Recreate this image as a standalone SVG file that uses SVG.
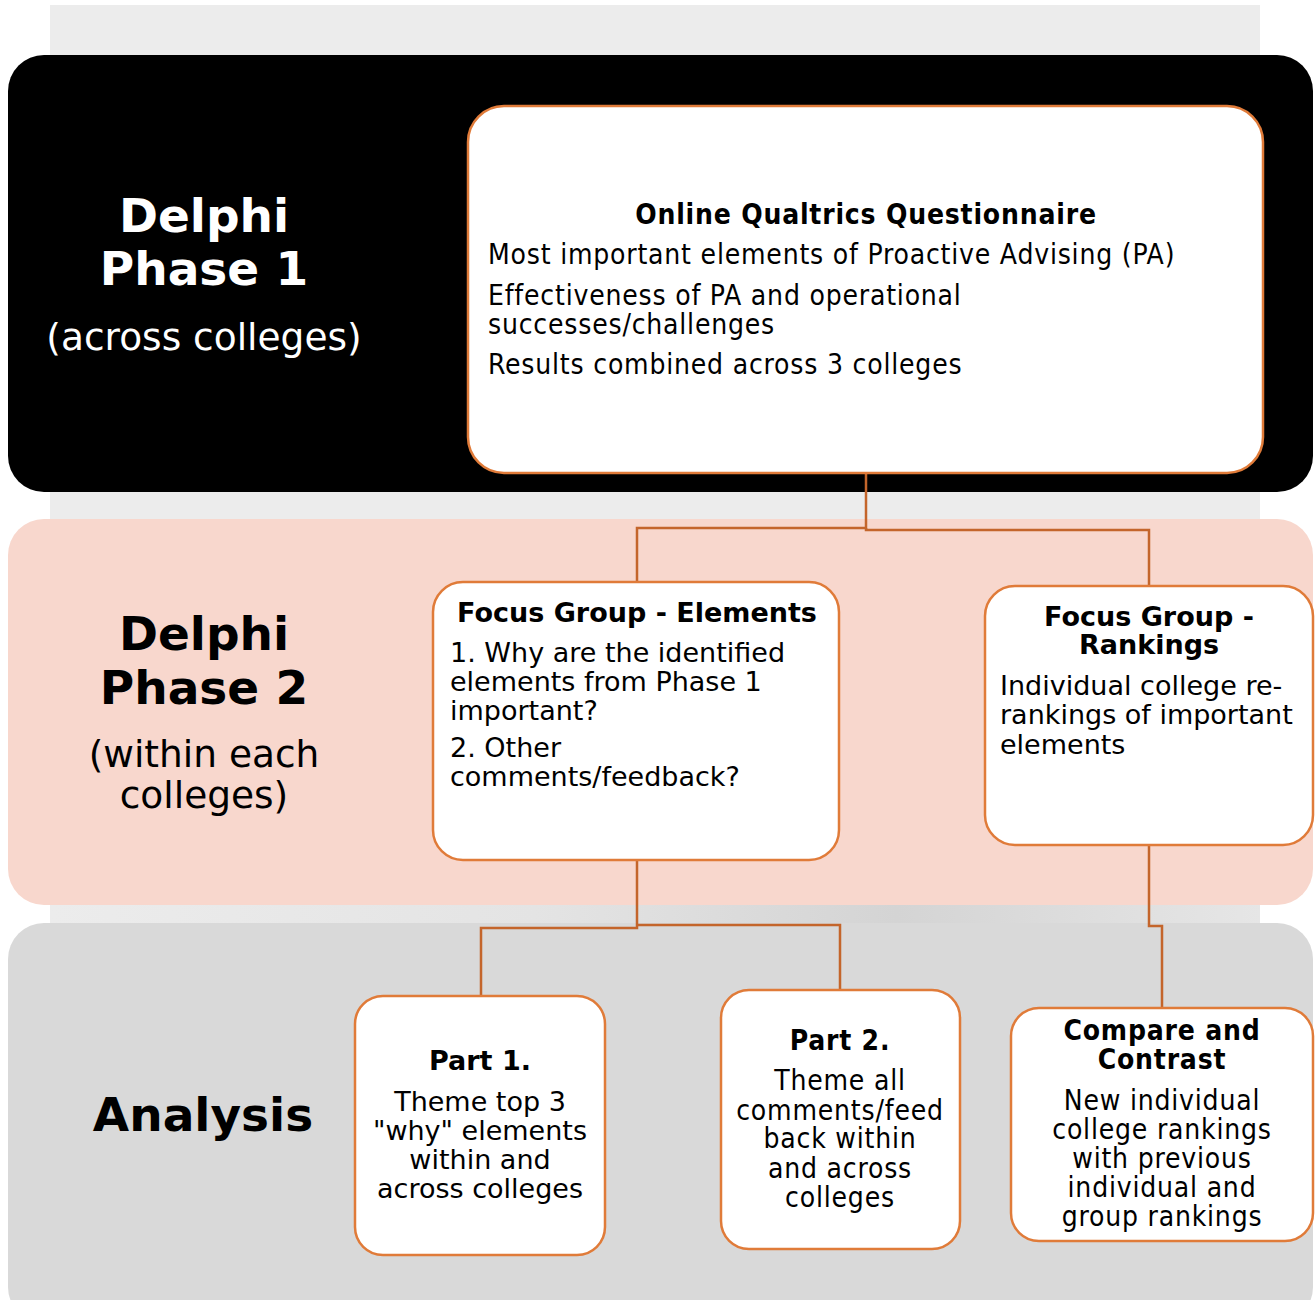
<svg xmlns="http://www.w3.org/2000/svg" width="1315" height="1300" viewBox="0 0 1315 1300">
<style>
.band{stroke:none}
.node{fill:#ffffff;stroke:#e07b39;stroke-width:2.5}
.conn{fill:none;stroke:#c4652b;stroke-width:2.5}
.t{font-family:'DejaVu Sans','Liberation Sans',sans-serif;fill:#000}
.c{font-family:'DejaVu Sans Condensed','DejaVu Sans','Liberation Sans',sans-serif;font-stretch:condensed;fill:#000;font-size:28px;letter-spacing:0.8px}
.b{font-weight:bold}
.big{font-size:47px;font-weight:bold}
.sub{font-size:37.5px}
.nt{font-size:27px}
.mid{text-anchor:middle}
.w{fill:#fff}
</style>
<defs>
<linearGradient id="gap" x1="0" y1="0" x2="1" y2="0">
<stop offset="0" stop-color="#ececec"/>
<stop offset="0.4" stop-color="#e4e4e4"/>
<stop offset="0.7" stop-color="#d4d4d4"/>
<stop offset="1" stop-color="#e6e6e6"/>
</linearGradient>
</defs>
<rect x="50" y="5" width="1210" height="1295" fill="#ececec"/>
<rect x="50" y="900" width="1210" height="30" fill="url(#gap)"/>
<g id="band-phase1">
<rect class="band" x="8" y="55" width="1305" height="437" rx="36" fill="#000"/>
<text class="t big mid w" x="204" y="232">Delphi</text>
<text class="t big mid w" x="204" y="285">Phase 1</text>
<text class="t sub mid w" x="204" y="350">(across colleges)</text>
</g>
<g id="band-phase2">
<rect class="band" x="8" y="519" width="1305" height="386" rx="36" fill="#f8d7cd"/>
<text class="t big mid" x="204" y="650">Delphi</text>
<text class="t big mid" x="204" y="704">Phase 2</text>
<text class="t sub mid" x="204" y="767">(within each</text>
<text class="t sub mid" x="204" y="808">colleges)</text>
</g>
<g id="band-analysis">
<rect class="band" x="8" y="923" width="1305" height="400" rx="36" fill="#d9d9d9"/>
<text class="t big mid" x="203" y="1131">Analysis</text>
</g>
<g id="connectors">
<path class="conn" d="M866 473 V528 H637 V582"/>
<path class="conn" d="M866 528 V530 H1149 V586"/>
<path class="conn" d="M637 860 V928 H481 V996"/>
<path class="conn" d="M637 925 H840 V990"/>
<path class="conn" d="M1149 845 V926 H1162 V1008"/>
</g>
<g id="node-questionnaire">
<rect class="node" x="468" y="106" width="795" height="367" rx="36"/>
<text class="c b mid" x="866" y="224">Online Qualtrics Questionnaire</text>
<text class="c" x="488" y="264">Most important elements of Proactive Advising (PA)</text>
<text class="c" x="488" y="305">Effectiveness of PA and operational</text>
<text class="c" x="488" y="334">successes/challenges</text>
<text class="c" x="488" y="374">Results combined across 3 colleges</text>
</g>
<g id="node-fg-elements">
<rect class="node" x="433" y="582" width="406" height="278" rx="30"/>
<text class="t b nt mid" x="637" y="622">Focus Group - Elements</text>
<text class="t nt" x="450" y="662">1. Why are the identified</text>
<text class="t nt" x="450" y="691">elements from Phase 1</text>
<text class="t nt" x="450" y="720">important?</text>
<text class="t nt" x="450" y="757">2. Other</text>
<text class="t nt" x="450" y="786">comments/feedback?</text>
</g>
<g id="node-fg-rankings">
<rect class="node" x="985" y="586" width="328" height="259" rx="30"/>
<text class="t b nt mid" x="1149" y="626">Focus Group -</text>
<text class="t b nt mid" x="1149" y="654">Rankings</text>
<text class="t nt" x="1000" y="695">Individual college re-</text>
<text class="t nt" x="1000" y="724">rankings of important</text>
<text class="t nt" x="1000" y="754">elements</text>
</g>
<g id="node-part1">
<rect class="node" x="355" y="996" width="250" height="259" rx="28"/>
<text class="t b nt mid" x="480" y="1070">Part 1.</text>
<text class="t nt mid" x="480" y="1111">Theme top 3</text>
<text class="t nt mid" x="480" y="1140">"why" elements</text>
<text class="t nt mid" x="480" y="1169">within and</text>
<text class="t nt mid" x="480" y="1198">across colleges</text>
</g>
<g id="node-part2">
<rect class="node" x="721" y="990" width="239" height="259" rx="28"/>
<text class="c b mid" x="840" y="1050">Part 2.</text>
<text class="c mid" x="840" y="1090">Theme all</text>
<text class="c mid" x="840" y="1120">comments/feed</text>
<text class="c mid" x="840" y="1148">back within</text>
<text class="c mid" x="840" y="1178">and across</text>
<text class="c mid" x="840" y="1207">colleges</text>
</g>
<g id="node-compare">
<rect class="node" x="1011" y="1008" width="302" height="233" rx="28"/>
<text class="c b mid" x="1162" y="1040">Compare and</text>
<text class="c b mid" x="1162" y="1069">Contrast</text>
<text class="c mid" x="1162" y="1110">New individual</text>
<text class="c mid" x="1162" y="1139">college rankings</text>
<text class="c mid" x="1162" y="1168">with previous</text>
<text class="c mid" x="1162" y="1197">individual and</text>
<text class="c mid" x="1162" y="1226">group rankings</text>
</g>
</svg>
